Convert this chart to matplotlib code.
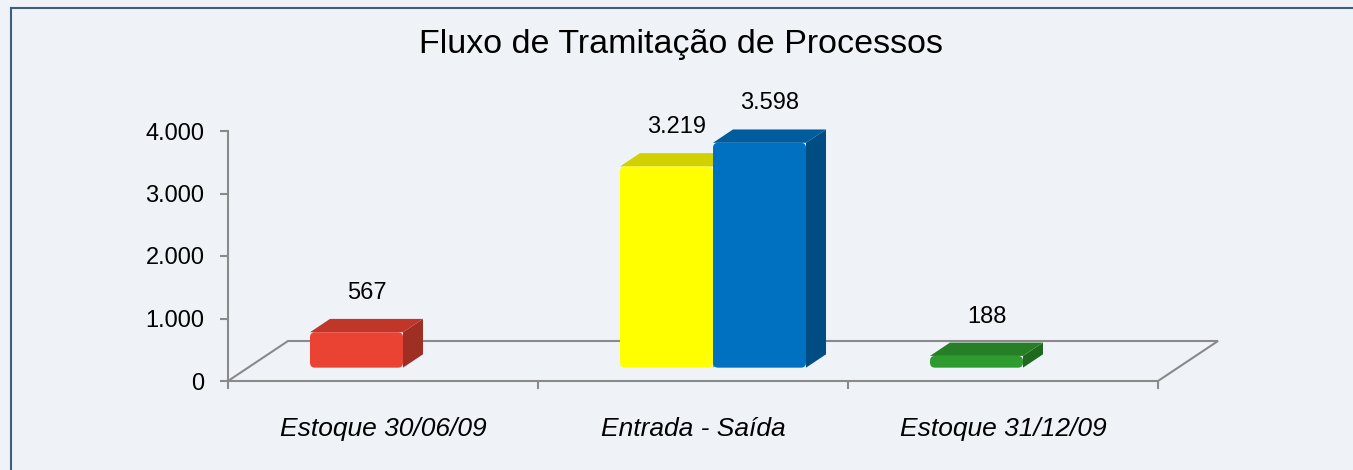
import matplotlib
matplotlib.use("Agg")
import matplotlib.pyplot as plt
from matplotlib.patches import Polygon, FancyBboxPatch
from matplotlib.lines import Line2D
from matplotlib.ticker import FuncFormatter, FixedLocator
from matplotlib.colors import to_rgb

# ---------------- data ----------------
categories = ["Estoque 30/06/09", "Entrada - Saída", "Estoque 31/12/09"]
serie_a = [567, 3219, 188]          # left slot of each category
serie_b = [None, 3598, None]        # right slot of each category
colors_a = ["#EA4333", "#FFFF00", "#2E9B2E"]
colors_b = [None, "#0070C0", None]
title = "Fluxo de Tramitação de Processos"
yticks = [0, 1000, 2000, 3000, 4000]

plt.rcParams['font.family'] = ['Liberation Sans', 'DejaVu Sans']

W, H = 1353, 470
fig = plt.figure(figsize=(W / 100, H / 100), dpi=100)
bg = "#EFF3F8"
fig.patch.set_facecolor(bg)

ax = fig.add_axes([228 / W, (H - 381) / H, 990 / W, 250 / H])
ax.set_facecolor('none')

DX = 60 / 310      # floor depth in x units
DY = 640           # floor depth in value units
BW = 0.30          # bar width (x units)
ax.set_xlim(-0.5, 2.5 + DX)
ax.set_ylim(0, 4000)
PX_X = 310         # pixels per x unit
PX_Y = 0.0625      # pixels per value unit

grey = "#8A8A8A"
for s in ['top', 'right', 'bottom']:
    ax.spines[s].set_visible(False)
ax.spines['left'].set_color(grey)
ax.spines['left'].set_linewidth(1.5)

# y axis
ax.yaxis.set_major_locator(FixedLocator(yticks))
ax.yaxis.set_major_formatter(FuncFormatter(lambda v, p: f"{int(v):,}".replace(",", ".")))
ax.tick_params(axis='y', length=6, width=1.5, color=grey, labelsize=17, pad=11)

# x axis: boundary ticks + category labels
n = len(categories)
ax.xaxis.set_major_locator(FixedLocator([i - 0.5 for i in range(n + 1)]))
ax.set_xticklabels([""] * (n + 1))
ax.xaxis.set_minor_locator(FixedLocator(list(range(n))))
ax.set_xticklabels(categories, minor=True, fontsize=19, style='italic')
ax.tick_params(axis='x', which='major', length=6, width=1.5, color=grey, direction='out')
ax.tick_params(axis='x', which='minor', length=0, pad=26)

# floor
fx = [-0.5, n - 0.5, n - 0.5 + DX, -0.5 + DX, -0.5]
fy = [0, 0, DY, DY, 0]
ax.plot(fx, fy, color=grey, lw=1.5, clip_on=False, zorder=1, solid_joinstyle='miter')


def shade(c, f):
    r, g, b = to_rgb(c)
    return (r * f, g * f, b * f)


def rounded(x, y, w, h, color, z, rpx=5):
    r = rpx / PX_X
    aspect = (rpx / PX_Y) / r
    p = FancyBboxPatch((x, y), w, h, boxstyle=f"round,pad=0,rounding_size={r}",
                       mutation_aspect=aspect, facecolor=color, edgecolor='none',
                       zorder=z, clip_on=False)
    ax.add_patch(p)


def draw_bar(xc, v, color):
    b = DY / 3
    ddx, ddy = DX / 3, DY / 3
    bars = ax.bar(xc, v, width=BW, bottom=b, color=color, zorder=4, clip_on=False)
    rect = bars[0]
    rect.set_visible(False)
    xl, yb, w, h = rect.get_x(), rect.get_y(), rect.get_width(), rect.get_height()
    xr = xl + w
    top_y = yb + h
    side = Polygon([(xr, yb), (xr + ddx, yb + ddy), (xr + ddx, top_y + ddy), (xr, top_y)],
                   closed=True, facecolor=shade(color, 0.68), edgecolor='none', zorder=3,
                   clip_on=False, joinstyle='round')
    top = Polygon([(xl, top_y), (xr, top_y), (xr + ddx, top_y + ddy), (xl + ddx, top_y + ddy)],
                  closed=True, facecolor=shade(color, 0.82), edgecolor='none', zorder=3,
                  clip_on=False, joinstyle='round')
    ax.add_patch(side)
    ax.add_patch(top)
    rounded(xl, yb, w, h, color, 4)
    ax.annotate(f"{v:,}".replace(",", "."), xy=(xc + ddx / 2, top_y + ddy),
                xytext=(0, 26), textcoords='offset pixels', ha='center', va='center',
                fontsize=17, annotation_clip=False)


for i in range(n):
    base = i + DX / 3
    if serie_a[i]:
        draw_bar(base - BW / 2, serie_a[i], colors_a[i])
    if serie_b[i]:
        draw_bar(base + BW / 2, serie_b[i], colors_b[i])

# title
fig.text(681 / W, 1 - 45 / H, title, ha='center', va='center', fontsize=24.5)

# border (left and top visible)
bc = "#3F5F82"
fig.add_artist(Line2D([11 / W, 11 / W], [0, 1 - 8 / H], color=bc, lw=1.5, transform=fig.transFigure))
fig.add_artist(Line2D([11 / W, 1], [1 - 8 / H, 1 - 8 / H], color=bc, lw=1.5, transform=fig.transFigure))

fig.savefig("out.png", dpi=100, facecolor=bg)
